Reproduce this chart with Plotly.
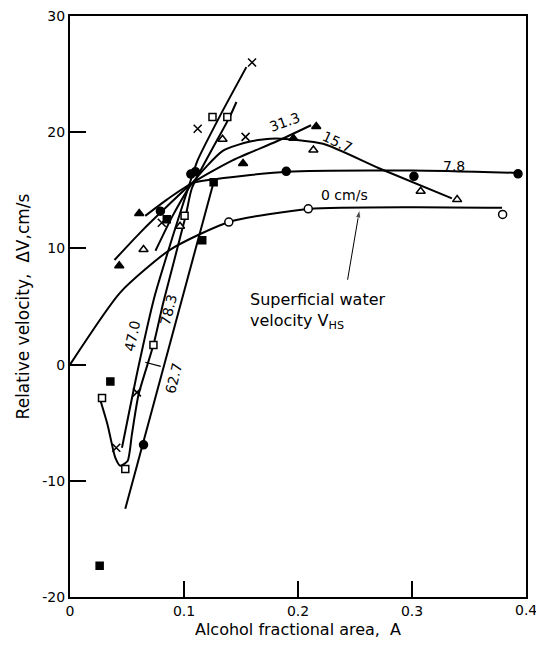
import plotly.graph_objects as go

# ---- curves (hand-drawn fits) ----
c0_x = [0, 0.044, 0.088, 0.14, 0.21, 0.30, 0.379]
c0_y = [0, 6.2, 9.9, 12.3, 13.4, 13.55, 13.5]

c78_x = [0.066, 0.085, 0.107, 0.13, 0.19, 0.30, 0.393]
c78_y = [12.8, 14.2, 15.6, 16.0, 16.6, 16.7, 16.5]

c157_x = [0.075, 0.09, 0.107, 0.134, 0.158, 0.181, 0.222, 0.271, 0.335]
c157_y = [9.8, 12.8, 15.6, 18.4, 19.2, 19.45, 19.0, 16.9, 14.3]

c313_x = [0.039, 0.062, 0.085, 0.107, 0.143, 0.181, 0.2115]
c313_y = [9.0, 11.4, 13.6, 15.6, 17.6, 19.2, 20.6]

c470_x = [0.0456, 0.06, 0.074, 0.09, 0.105, 0.112, 0.131, 0.1547]
c470_y = [-7.15, -0.2, 5.8, 11.0, 15.6, 17.6, 21.3, 25.6]

cV_x = [0.0252, 0.033, 0.0397, 0.0441, 0.0505, 0.0543, 0.0601, 0.0732, 0.082, 0.1015, 0.107, 0.140, 0.146]
cV_y = [-2.6, -5.2, -8.0, -8.7, -8.3, -6.0, -2.6, 1.7, 5.4, 12.8, 15.2, 21.3, 22.6]

cR_x = [0.0485, 0.126]
cR_y = [-12.4, 15.7]

lead_x = [0.066, 0.0796]
lead_y = [0.2, -0.15]

arrow_x = [0.2435, 0.254]
arrow_y = [7.3, 13.35]

# ---- data points ----
p0_x = [0.1393, 0.209, 0.3795]
p0_y = [12.27, 13.41, 12.92]

p78_x = [0.0793, 0.106, 0.110, 0.1897, 0.3017, 0.393, 0.0645]
p78_y = [13.2, 16.4, 16.6, 16.63, 16.2, 16.42, -6.9]

p157_x = [0.0645, 0.0965, 0.1338, 0.2135, 0.3076, 0.3396]
p157_y = [9.9, 11.9, 19.4, 18.47, 14.92, 14.2]

p313_x = [0.0432, 0.0607, 0.1518, 0.196, 0.216]
p313_y = [8.5, 13.0, 17.3, 19.47, 20.5]

p470_x = [0.0406, 0.0587, 0.0805, 0.112, 0.154, 0.1597]
p470_y = [-7.15, -2.39, 12.2, 20.3, 19.6, 26.0]

p627_x = [0.026, 0.0354, 0.0849, 0.116, 0.126]
p627_y = [-17.3, -1.45, 12.5, 10.7, 15.7]

p783_x = [0.0281, 0.0485, 0.0732, 0.1005, 0.125, 0.138]
p783_y = [-2.88, -8.99, 1.68, 12.8, 21.3, 21.3]

x_ticks = [0, 0.1, 0.2, 0.3, 0.4]
x_labels = ["0", "0.1", "0.2", "0.3", "0.4"]
y_ticks = [-20, -10, 0, 10, 20, 30]
y_labels = ["-20", "-10", "0", "10", "20", "30"]

FONT = "DejaVu Sans"
fig = go.Figure()

line_style = dict(color="black", width=2, shape="spline", smoothing=0.6)
for cx, cy in [(c0_x, c0_y), (c78_x, c78_y), (c157_x, c157_y), (c313_x, c313_y),
               (c470_x, c470_y), (cV_x, cV_y), (cR_x, cR_y)]:
    fig.add_trace(go.Scatter(x=cx, y=cy, mode="lines", line=line_style,
                             hoverinfo="skip", showlegend=False))
fig.add_trace(go.Scatter(x=lead_x, y=lead_y, mode="lines",
                         line=dict(color="black", width=1.2), showlegend=False))
fig.add_trace(go.Scatter(x=arrow_x, y=arrow_y, mode="lines+markers",
                         line=dict(color="black", width=1),
                         marker=dict(symbol="arrow", angleref="previous",
                                     size=[0, 9], color="black"),
                         showlegend=False))

def pts(x, y, symbol, fill, size=8):
    fig.add_trace(go.Scatter(
        x=x, y=y, mode="markers", showlegend=False,
        marker=dict(symbol=symbol, size=size, color=fill,
                    line=dict(color="black", width=1.5))))

pts(p0_x, p0_y, "circle", "white", 8)
pts(p78_x, p78_y, "circle", "black", 8)
pts(p157_x, p157_y, "triangle-up", "white", 8)
pts(p313_x, p313_y, "triangle-up", "black", 8)
pts(p470_x, p470_y, "x-thin", "black", 8)
pts(p627_x, p627_y, "square", "black", 7)
pts(p783_x, p783_y, "square", "white", 7)

ann_font = dict(family=FONT, size=14, color="black")
annotations = [
    dict(x=0.1882, y=20.9, text="31.3", textangle=-20),
    dict(x=0.2348, y=19.2, text="15.7", textangle=25),
    dict(x=0.3367, y=17.1, text="7.8", textangle=0),
    dict(x=0.2406, y=14.6, text="0 cm/s", textangle=0),
    dict(x=0.0543, y=2.5, text="47.0", textangle=-78),
    dict(x=0.0863, y=4.7, text="78.3", textangle=-76),
    dict(x=0.0905, y=-1.2, text="62.7", textangle=-76),
]
for a in annotations:
    a.update(xref="x", yref="y", showarrow=False, font=ann_font)
annotations.append(dict(
    x=0.1559, y=4.6, xref="x", yref="y", xanchor="left", align="left",
    text="Superficial water<br>velocity V<sub>HS</sub>", showarrow=False,
    font=dict(family=FONT, size=16, color="black")))
annotations.append(dict(
    x=0.4, y=0, xref="x", yref="paper", xanchor="center", yanchor="top",
    yshift=-3, text="0.4", showarrow=False,
    font=dict(family=FONT, size=14, color="black")))

axis_common = dict(showline=True, linecolor="black", linewidth=2, mirror=True,
                   ticks="inside", ticklen=16, tickwidth=1.5, tickcolor="black",
                   showgrid=False, zeroline=False,
                   tickfont=dict(family=FONT, size=14, color="black"))

fig.update_layout(
    width=536, height=650, plot_bgcolor="white", paper_bgcolor="white",
    margin=dict(l=70, r=8, t=12, b=53),
    annotations=annotations,
    xaxis=dict(range=[0, 0.4], tickvals=x_ticks, ticktext=x_labels,
               title=dict(text="Alcohol fractional area,  A", standoff=6,
                          font=dict(family=FONT, size=16, color="black")),
               **axis_common),
    yaxis=dict(range=[-20, 30], tickvals=y_ticks, ticktext=y_labels,
               title=dict(text="Relative velocity,  \u0394V,cm/s", standoff=8,
                          font=dict(family=FONT, size=17, color="black")),
               **axis_common),
)

fig.write_html("out.html")
